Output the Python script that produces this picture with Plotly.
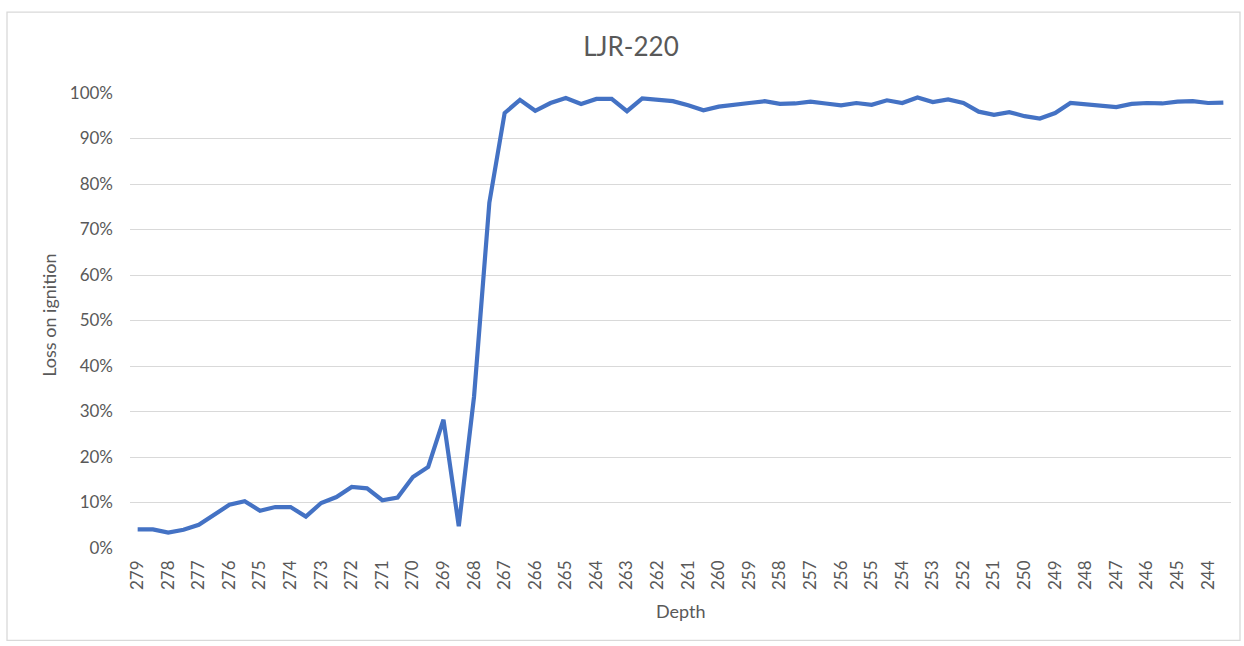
import plotly.graph_objects as go

# Core depths (cm), sampled every half centimetre, shallowest last
depth = [
    "279", "278.5", "278", "277.5", "277", "276.5", "276", "275.5", "275", "274.5",
    "274", "273.5", "273", "272.5", "272", "271.5", "271", "270.5", "270", "269.5",
    "269", "268.5", "268", "267.5", "267", "266.5", "266", "265.5", "265", "264.5",
    "264", "263.5", "263", "262.5", "262", "261.5", "261", "260.5", "260", "259.5",
    "259", "258.5", "258", "257.5", "257", "256.5", "256", "255.5", "255", "254.5",
    "254", "253.5", "253", "252.5", "252", "251.5", "251", "250.5", "250", "249.5",
    "249", "248.5", "248", "247.5", "247", "246.5", "246", "245.5", "245", "244.5",
    "244", "243.5",
]

# Loss on ignition (%)
loi = [
    4.1, 4.1, 3.4, 4.0, 5.1, 7.4, 9.5, 10.3, 8.2, 9.0,
    9.0, 6.9, 9.9, 11.2, 13.4, 13.1, 10.5, 11.1, 15.6, 17.8,
    28.2, 4.8, 33.3, 75.9, 95.6, 98.5, 96.1, 97.8, 98.9, 97.6,
    98.7, 98.7, 96.0, 98.8, 98.5, 98.2, 97.3, 96.2, 97.0, 97.3,
    97.8, 98.2, 97.6, 97.7, 98.1, 97.7, 97.3, 97.8, 97.4, 98.4,
    97.8, 99.0, 98.0, 98.6, 97.8, 95.9, 95.2, 95.8, 94.9, 94.4,
    95.6, 97.8, 97.5, 97.0, 96.9, 97.6, 97.8, 97.7, 98.1, 98.2,
    97.8, 97.9,
]

# Only whole-centimetre depths get a label
tick_depths = [d for d in depth if "." not in d]

W, H = 1244, 646
PL, PR, PT, PB = 130, 1231, 93, 548.5  # plot area in pixels
pw, ph = PR - PL, PB - PT

def px_x(x):
    return (x - PL) / pw

def px_y(y):
    return (PB - y) / ph

TEXT = "#595959"
GRID = "#d9d9d9"
FONT = "Lato"

fig = go.Figure(
    go.Scatter(
        x=depth,
        y=loi,
        mode="lines",
        line=dict(color="#4472C4", width=4.2),
        hoverinfo="x+y",
    )
)

fig.update_layout(
    width=W,
    height=H,
    margin=dict(l=PL, r=W - PR, t=PT, b=H - PB, pad=0),
    paper_bgcolor="white",
    plot_bgcolor="white",
    showlegend=False,
    font=dict(family=FONT, color=TEXT),
    title=dict(
        text="LJR-220",
        font=dict(family=FONT, size=26, color=TEXT),
        x=631 / W,
        xref="container",
        xanchor="center",
        y=1 - 47 / H,
        yref="container",
        yanchor="middle",
    ),
    xaxis=dict(
        type="category",
        categoryorder="array",
        categoryarray=depth,
        range=[-0.5, len(depth) - 0.5],
        tickmode="array",
        tickvals=tick_depths,
        ticktext=tick_depths,
        tickangle=-90,
        tickfont=dict(family=FONT, size=17, color=TEXT),
        ticks="",
        ticklabelstandoff=8,
        showgrid=False,
        showline=False,
        zeroline=False,
    ),
    yaxis=dict(
        range=[0, 100],
        tickmode="linear",
        tick0=0,
        dtick=10,
        ticksuffix="%",
        tickfont=dict(family=FONT, size=17, color=TEXT),
        ticks="",
        ticklabelstandoff=16,
        showgrid=True,
        gridcolor=GRID,
        gridwidth=1.3,
        zeroline=False,
        showline=False,
    ),
    annotations=[
        dict(
            text="Loss on ignition",
            x=px_x(49), y=px_y(316),
            xref="paper", yref="paper",
            textangle=-90, showarrow=False,
            xanchor="center", yanchor="middle",
            font=dict(family=FONT, size=18, color=TEXT),
        ),
        dict(
            text="Depth",
            x=px_x((PL + PR) / 2), y=px_y(612),
            xref="paper", yref="paper",
            showarrow=False,
            xanchor="center", yanchor="middle",
            font=dict(family=FONT, size=18, color=TEXT),
        ),
    ],
    shapes=[
        # chart frame
        dict(
            type="rect", xref="paper", yref="paper",
            x0=px_x(7), x1=px_x(1240), y0=px_y(641), y1=px_y(12),
            line=dict(color="#d9d9d9", width=1.3),
            fillcolor="rgba(0,0,0,0)", layer="below",
        ),
    ],
)

fig.write_html("out.html")
